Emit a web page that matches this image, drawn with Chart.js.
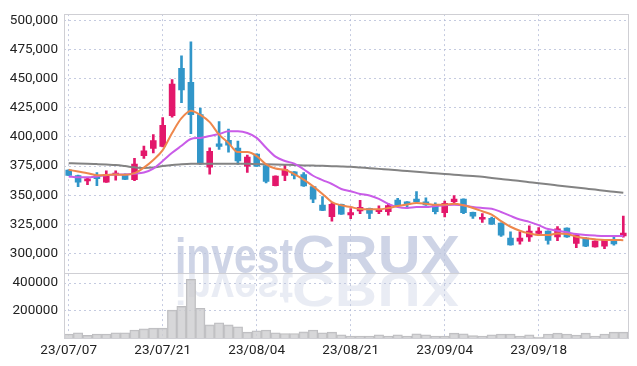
<!DOCTYPE html>
<html>
<head>
<meta charset="utf-8">
<script src="https://cdn.jsdelivr.net/npm/chart.js@4/dist/chart.umd.min.js"></script>
<style>
  html, body { margin: 0; padding: 0; background: #fff; }
  #wrap { width: 637px; height: 366px; }
</style>
</head>
<body>
<div id="wrap"><canvas id="myChart" width="637" height="366"></canvas></div>
<script>
const dates = ['23/07/07', '23/07/10', '23/07/11', '23/07/12', '23/07/13', '23/07/14', '23/07/17', '23/07/18', '23/07/19', '23/07/20',
  '23/07/21', '23/07/24', '23/07/25', '23/07/26', '23/07/27', '23/07/28', '23/07/31', '23/08/01', '23/08/02', '23/08/03',
  '23/08/04', '23/08/07', '23/08/08', '23/08/09', '23/08/10', '23/08/11', '23/08/14', '23/08/16', '23/08/17', '23/08/18',
  '23/08/21', '23/08/22', '23/08/23', '23/08/24', '23/08/25', '23/08/28', '23/08/29', '23/08/30', '23/08/31', '23/09/01',
  '23/09/04', '23/09/05', '23/09/06', '23/09/07', '23/09/08', '23/09/11', '23/09/12', '23/09/13', '23/09/14', '23/09/15',
  '23/09/18', '23/09/19', '23/09/20', '23/09/21', '23/09/22', '23/09/25', '23/09/26', '23/09/27', '23/10/04', '23/10/05'];

const openPrice = [371800, 367200, 361900, 367200, 361000, 367200, 367500, 363000, 383600, 389800,
  391500, 418000, 459300, 447200, 419500, 373700, 394300, 397500, 390700, 374600,
  385600, 375700, 357900, 366700, 370300, 368000, 357600, 341800, 331300, 342400,
  332800, 336200, 339000, 335600, 335600, 346000, 344600, 346900, 344600, 341300,
  334700, 344100, 346900, 335600, 329100, 330500, 326300, 313500, 310200, 313800,
  316900, 319400, 313800, 322000, 308200, 313500, 305400, 305900, 311600, 314700];
const highPrice = [371800, 367200, 364400, 369500, 370900, 370900, 368300, 381600, 392100, 402000,
  416700, 449200, 469700, 481600, 424800, 390700, 413300, 406800, 396400, 384400,
  385600, 375700, 366700, 376500, 370300, 369500, 357600, 348900, 343500, 342400,
  338400, 345500, 339000, 340900, 342700, 347200, 344600, 353100, 347700, 343500,
  344900, 349700, 346900, 335600, 334200, 331300, 326300, 318600, 318600, 323700,
  322200, 319400, 323000, 322000, 316300, 313500, 310800, 311600, 314700, 332000];
const lowPrice = [366700, 357400, 359000, 358200, 361000, 363000, 363300, 362500, 381600, 386400,
  391500, 417000, 429400, 402800, 376500, 368000, 389200, 387000, 376500, 369500,
  374600, 360500, 357900, 362500, 364000, 357600, 343500, 336700, 327700, 333400,
  329900, 334100, 329900, 334100, 332800, 340700, 338400, 344100, 341300, 333900,
  331300, 343500, 334100, 330000, 326600, 324800, 314500, 307000, 308000, 310400,
  315200, 308000, 311000, 313800, 305000, 305900, 305400, 304000, 307000, 314000];
const closePrice = [366700, 361000, 364400, 363800, 367800, 369200, 363300, 377100, 388400, 397200,
  410200, 445800, 440100, 418900, 376500, 387900, 391500, 392600, 379100, 383000,
  374600, 361600, 366700, 372300, 366700, 357600, 346300, 336700, 342400, 333400,
  335300, 339800, 334100, 338100, 341300, 340700, 341800, 344100, 341300, 335600,
  343200, 346900, 334700, 331600, 331300, 324800, 315300, 307000, 313500, 319500,
  319400, 310900, 321500, 313800, 316300, 305900, 310800, 311600, 307900, 317800];

const ma5 = [371800, 370300, 368900, 367200, 367400, 367800, 367500, 368900, 373700, 380300,
  388700, 403400, 416100, 422600, 418900, 412700, 402000, 394900, 387000, 387000,
  383600, 376500, 372900, 371800, 368100, 363300, 357600, 351100, 344100, 341300,
  339800, 338100, 337900, 337900, 339000, 340700, 342100, 343200, 342600, 341800,
  341800, 342600, 341300, 339000, 336200, 333300, 327700, 322900, 319500, 317200,
  315800, 315800, 317200, 316700, 314400, 313000, 312100, 311600, 311600, 311300];
const ma20 = [366100, 365300, 365300, 366100, 367200, 367800, 367800, 368400, 369500, 372900,
  379400, 386400, 392400, 398300, 399200, 400900, 402500, 404800, 404800, 403400,
  399200, 390700, 383100, 379400, 377100, 372300, 366700, 363000, 359600, 355300,
  353400, 351100, 349800, 346900, 342600, 339800, 339000, 339800, 339800, 340700,
  341300, 341800, 341300, 339800, 339000, 338400, 335600, 332200, 329100, 327100,
  324300, 320900, 319500, 318100, 316700, 315800, 315300, 315000, 315000, 315000];
const ma60 = [377400, 377300, 377100, 376700, 376300, 375900, 375000, 373900, 373300, 373700,
  375000, 376000, 376500, 376900, 377100, 377100, 377100, 377100, 377100, 377100,
  376700, 376500, 376300, 376100, 375900, 375600, 375400, 375200, 374900, 374700,
  374400, 373800, 373200, 372600, 372000, 371400, 370700, 370100, 369500, 368800,
  368200, 367600, 367000, 366400, 365800, 364800, 363900, 363100, 362100, 361200,
  360300, 359300, 358400, 357500, 356600, 355700, 354800, 353800, 352900, 352000];

const volume = [29000, 38000, 19000, 29000, 29000, 38000, 38000, 58000, 67000, 72000,
  72000, 203000, 231000, 427000, 217000, 96000, 111000, 96000, 82000, 43000,
  53000, 58000, 38000, 33000, 33000, 45000, 58000, 38000, 43000, 24000,
  14000, 14000, 14000, 24000, 14000, 24000, 14000, 31000, 24000, 14000,
  14000, 36000, 31000, 17000, 14000, 24000, 29000, 29000, 14000, 24000,
  7000, 29000, 36000, 29000, 22000, 36000, 14000, 29000, 43000, 43000];

const priceTicks = [300000, 325000, 350000, 375000, 400000, 425000, 450000, 475000, 500000];
const volumeTicks = [200000, 400000];

const UP_COLOR = '#e3176b';
const DOWN_COLOR = '#3196c9';
const FONT = { family: "Roboto, 'Liberation Sans', sans-serif", size: 13.5 };
const GRID_COLOR = 'rgba(178, 186, 214, 0.75)';

const candleColors = openPrice.map((o, i) => closePrice[i] >= o ? UP_COLOR : DOWN_COLOR);

// 테두리 + 워터마크
const frameAndMark = {
  id: 'frameAndMark',
  beforeDatasetsDraw(chart) {
    const ctx = chart.ctx;
    const a = chart.chartArea;
    const split = chart.scales.y.bottom;
    ctx.save();
    ctx.beginPath();
    ctx.rect(a.left, a.top, a.right - a.left, a.bottom - a.top);
    ctx.clip();
    ctx.fillStyle = 'rgba(190, 198, 222, 0.75)';
    ctx.textBaseline = 'alphabetic';
    ctx.font = "bold 50px 'Liberation Sans', sans-serif";
    let w1 = ctx.measureText('invest').width;
    ctx.font = "bold 54px 'Liberation Sans', sans-serif";
    let w2 = ctx.measureText('CRUX').width;
    const drawWord = (flip, alpha) => {
      ctx.save();
      ctx.globalAlpha = alpha;
      ctx.translate(0, split);
      ctx.scale(1, flip ? -0.9 : 1);
      ctx.save();
      ctx.translate(175, 0);
      ctx.scale(118 / w1, 1);
      ctx.font = "bold 50px 'Liberation Sans', sans-serif";
      ctx.fillText('invest', 0, 0);
      ctx.restore();
      ctx.save();
      ctx.translate(292, 0);
      ctx.scale(168 / w2, 1);
      ctx.font = "bold 54px 'Liberation Sans', sans-serif";
      ctx.fillText('CRUX', 0, 0);
      ctx.restore();
      ctx.restore();
    };
    drawWord(false, 1);
    drawWord(true, 0.45);
    ctx.restore();
  },
  afterDatasetsDraw(chart) {
    const ctx = chart.ctx;
    const a = chart.chartArea;
    ctx.save();
    ctx.strokeStyle = '#cfcfd4';
    ctx.lineWidth = 1;
    ctx.setLineDash([]);
    ctx.strokeRect(Math.round(a.left) + 0.5, Math.round(a.top) + 0.5, Math.round(a.right - a.left), Math.round(a.bottom - a.top));
    const s = Math.round(chart.scales.y.bottom) + 0.5;
    ctx.beginPath();
    ctx.moveTo(a.left, s);
    ctx.lineTo(a.right, s);
    ctx.stroke();
    ctx.restore();
  }
};

const ctx = document.getElementById('myChart').getContext('2d');

const config = {
  data: {
    labels: dates,
    datasets: [
      {
        type: 'line', label: 'MA5', data: ma5, yAxisID: 'y',
        borderColor: '#ee874c', borderWidth: 2, pointRadius: 0,
        cubicInterpolationMode: 'monotone', order: 1
      },
      {
        type: 'line', label: 'MA20', data: ma20, yAxisID: 'y',
        borderColor: '#c95ce8', borderWidth: 2, pointRadius: 0,
        cubicInterpolationMode: 'monotone', order: 1
      },
      {
        type: 'line', label: 'MA60', data: ma60, yAxisID: 'y',
        borderColor: '#838383', borderWidth: 2, pointRadius: 0,
        cubicInterpolationMode: 'monotone', order: 1
      },
      {
        type: 'bar', label: 'wick', yAxisID: 'y',
        data: lowPrice.map((l, i) => [l, highPrice[i]]),
        backgroundColor: candleColors, barThickness: 2, grouped: false, order: 3
      },
      {
        type: 'bar', label: 'body', yAxisID: 'y',
        data: openPrice.map((o, i) => [o, closePrice[i]]),
        backgroundColor: candleColors, barPercentage: 0.7, categoryPercentage: 1,
        grouped: false, order: 2
      },
      {
        type: 'bar', label: 'volume', yAxisID: 'yv', data: volume,
        backgroundColor: 'rgba(205, 205, 208, 0.8)', borderColor: '#bdbdc0', borderWidth: 1,
        barPercentage: 1, categoryPercentage: 1, grouped: false, order: 4
      }
    ]
  },
  options: {
    responsive: false,
    animation: false,
    layout: { padding: { top: 9, right: 9, left: 0, bottom: 0 } },
    plugins: {
      legend: { display: false },
      tooltip: { enabled: false }
    },
    scales: {
      x: {
        type: 'category',
        offset: true,
        grid: { offset: false, color: GRID_COLOR, drawTicks: false },
        border: { display: false, dash: [2, 3] },
        afterBuildTicks: s => { s.ticks = s.ticks.filter(t => t.value % 10 === 0); },
        afterFit: s => { s.height = 28; },
        ticks: { autoSkip: false, maxRotation: 0, padding: 5, color: '#222', font: FONT,
          callback: function(v) { return this.getLabelForValue(v); } }
      },
      yv: {
        type: 'linear',
        position: 'left',
        stack: 'panel',
        stackWeight: 1,
        min: 0,
        max: 472000,
        grid: { color: GRID_COLOR, drawTicks: false },
        border: { display: false, dash: [2, 3] },
        afterBuildTicks: s => { s.ticks = volumeTicks.map(v => ({ value: v })); },
        afterFit: s => { s.width = 64; },
        ticks: { autoSkip: false, padding: 6, color: '#222', font: FONT,
          callback: v => String(v) }
      },
      y: {
        type: 'linear',
        position: 'left',
        stack: 'panel',
        stackWeight: 4,
        min: 283000,
        max: 505500,
        grid: { color: GRID_COLOR, drawTicks: false },
        border: { display: false, dash: [2, 3] },
        afterBuildTicks: s => { s.ticks = priceTicks.map(v => ({ value: v })); },
        afterFit: s => { s.width = 64; },
        ticks: { autoSkip: false, padding: 6, color: '#222', font: FONT,
          callback: v => v.toLocaleString('en-US') }
      }
    }
  },
  plugins: [frameAndMark]
};

const myChart = new Chart(ctx, config);
</script>
</body>
</html>
